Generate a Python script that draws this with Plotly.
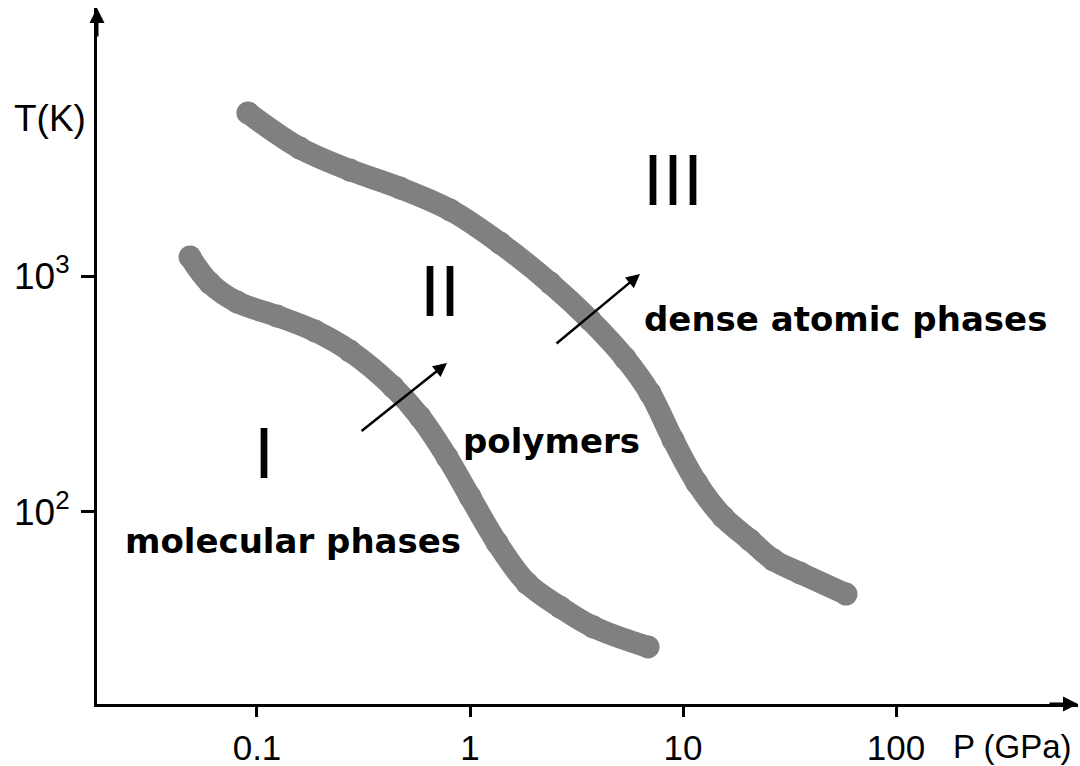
import math
import plotly.graph_objects as go

# Phase boundary I -> II (molecular -> polymeric), pressure in GPa, temperature in K
p_boundary_1 = [0.0485, 0.0601, 0.0806, 0.124, 0.187, 0.273, 0.435, 0.582,
                0.780, 1.0, 1.34, 1.85, 2.65, 3.78, 6.85]
t_boundary_1 = [1204, 933, 776, 677, 585, 481, 339, 253,
                171, 116, 74, 50, 39.5, 32.6, 26.8]

# Phase boundary II -> III (polymeric -> dense atomic)
p_boundary_2 = [0.0907, 0.159, 0.273, 0.469, 0.806, 1.38, 2.38, 3.66, 5.34,
                7.0, 8.98, 11.6, 15.4, 20.6, 26.5, 35.4, 58.2]
t_boundary_2 = [4910, 3483, 2812, 2361, 1906, 1380, 933, 651, 449,
                319, 202, 133, 95.3, 76.1, 62.7, 55.2, 44.9]

# Axis ticks
p_ticks = [0.1, 1, 10, 100]
p_tick_labels = ["0.1", "1", "10", "100"]
t_ticks = [100, 1000]
t_tick_labels = ["10<sup>2</sup>", "10<sup>3</sup>"]

# Region labels: (text, P, T)
region_numerals = [("I", 0.1075, 178), ("II", 0.72, 863), ("III", 8.93, 2553)]
region_names = [("molecular phases", 0.1476, 75.3),
                ("polymers", 2.41, 200),
                ("dense atomic phases", 58.2, 658)]

# Transition arrows: (P_tail, T_tail, P_head, T_head)
transition_arrows = [(0.3047, 218, 0.780, 428),
                     (2.506, 511, 6.28, 1019)]

GRAY = "#808080"
SANS = '"Liberation Sans", Arial, sans-serif'
BOLD = '"DejaVu Sans", sans-serif'

fig = go.Figure()
for p_vals, t_vals in [(p_boundary_1, t_boundary_1), (p_boundary_2, t_boundary_2)]:
    fig.add_trace(go.Scatter(
        x=p_vals, y=t_vals, mode="lines+markers",
        line=dict(color=GRAY, width=22, shape="spline", smoothing=1.0),
        marker=dict(color=GRAY, size=23, line=dict(width=0)),
        hoverinfo="skip", showlegend=False,
    ))

annotations = []
for text, p, t in region_numerals:
    annotations.append(dict(
        x=math.log10(p), y=math.log10(t), xref="x", yref="y", text=text,
        showarrow=False, font=dict(family=SANS, size=72, color="black"),
        xanchor="center", yanchor="middle"))
for text, p, t in region_names:
    annotations.append(dict(
        x=math.log10(p), y=math.log10(t), xref="x", yref="y", text=text,
        showarrow=False, font=dict(family=BOLD, size=34, color="black", weight="bold"),
        xanchor="center", yanchor="middle"))
for p0, t0, p1, t1 in transition_arrows:
    annotations.append(dict(
        x=math.log10(p1), y=math.log10(t1), ax=math.log10(p0), ay=math.log10(t0),
        xref="x", yref="y", axref="x", ayref="y", text="", showarrow=True,
        arrowhead=2, arrowsize=1.1, arrowwidth=2.5, arrowcolor="black", standoff=0))

# Arrow tips on the ends of both axes
annotations.append(dict(x=0, y=1, xref="paper", yref="paper", ax=0, ay=30,
                        text="", showarrow=True, arrowhead=2, arrowsize=1.0,
                        arrowwidth=3, arrowcolor="black", standoff=0))
annotations.append(dict(x=1, y=0, xref="paper", yref="paper", ax=-30, ay=0,
                        text="", showarrow=True, arrowhead=2, arrowsize=1.0,
                        arrowwidth=3, arrowcolor="black", standoff=0))

# Axis names (placed by pixel position on the page)
W, H = 1080, 766
ML, MR, MT, MB = 97, 2, 8, 62
axis_names = [("T(K)", 50, 118, 37), ("P (GPa)", 1012, 747, 33)]
for text, px, py, size in axis_names:
    annotations.append(dict(
        x=(px - ML) / (W - ML - MR), y=1 - (py - MT) / (H - MT - MB),
        xref="paper", yref="paper", text=text, showarrow=False,
        xanchor="center", yanchor="middle",
        font=dict(family=SANS, size=size, color="black")))

fig.update_layout(
    width=W, height=H,
    margin=dict(l=ML, r=MR, t=MT, b=MB, pad=0, autoexpand=False),
    paper_bgcolor="white", plot_bgcolor="white",
    annotations=annotations,
    xaxis=dict(type="log", range=[-1.751, 2.854], automargin=False,
               tickvals=p_ticks, ticktext=p_tick_labels,
               showgrid=False, zeroline=False,
               showline=True, linecolor="black", linewidth=3,
               ticks="outside", ticklen=10, tickwidth=3, tickcolor="black",
               ticklabelstandoff=1,
               tickfont=dict(family=SANS, size=35, color="black")),
    yaxis=dict(type="log", range=[1.1864, 4.1356], automargin=False,
               tickvals=t_ticks, ticktext=t_tick_labels,
               showgrid=False, zeroline=False,
               showline=True, linecolor="black", linewidth=3,
               ticks="outside", ticklen=13, tickwidth=3, tickcolor="black",
               ticklabelstandoff=4,
               tickfont=dict(family=SANS, size=37, color="black")),
)

fig.write_html("out.html")
